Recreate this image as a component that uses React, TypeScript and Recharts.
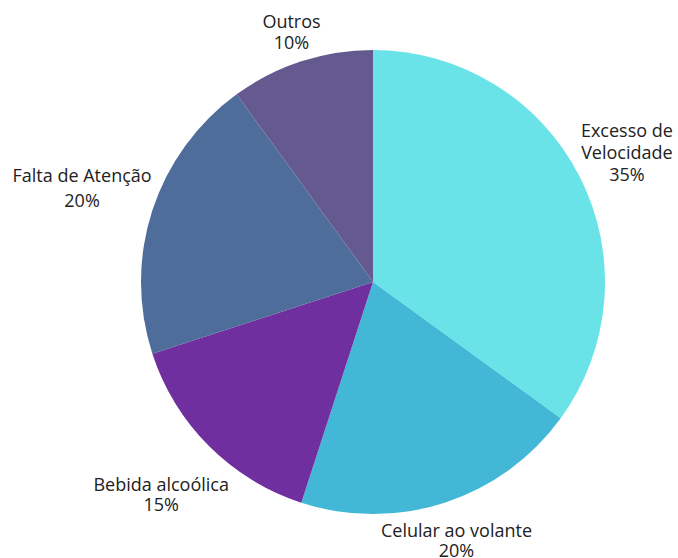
import React from "react";
import { PieChart, Pie, Cell } from "recharts";

const categories = ["Excesso de Velocidade", "Celular ao volante", "Bebida alcoólica", "Falta de Atenção", "Outros"];
const labelLines = [["Excesso de", "Velocidade", "35%"], ["Celular ao volante", "20%"], ["Bebida alcoólica", "15%"], ["Falta de Atenção", "20%"], ["Outros", "10%"]];
const values = [35, 20, 15, 20, 10];
const colors = ["#6AE3E8", "#43B7D6", "#6F2F9F", "#4E6D9A", "#645A8F"];

const data = categories.map((name, i) => ({ name, value: values[i] }));

// fine nudges of label blocks (px)
const nudges = [[16, -8.5], [1, 4], [-23, 23], [-37, -11.5], [1, 3.5]];
const lineHeights = [22, 20, 20, 25, 21];

const RADIAN = Math.PI / 180;

const renderLabel = (props: any) => {
  const { cx, cy, midAngle, outerRadius, index } = props;
  const r = outerRadius + 35;
  const x = cx + r * Math.cos(-midAngle * RADIAN) + nudges[index][0];
  const y = cy + r * Math.sin(-midAngle * RADIAN) + nudges[index][1];
  const lines = labelLines[index];
  const lh = lineHeights[index];
  const startY = y - ((lines.length - 1) * lh) / 2;
  return (
    <text
      x={x}
      y={startY}
      textAnchor="middle"
      dominantBaseline="central"
      fill="#222"
      style={{ fontFamily: "'Open Sans', sans-serif", fontSize: 18 }}
    >
      {lines.map((l, i) => (
        <tspan key={i} x={x} y={startY + i * lh} dominantBaseline="central">
          {l}
        </tspan>
      ))}
    </text>
  );
};

export default function App() {
  return (
    <div style={{ position: "absolute", left: 0, top: 0, width: 678, height: 558, background: "#fff" }}>
      <PieChart width={678} height={558} margin={{ top: 0, right: 0, bottom: 0, left: 0 }}>
        <Pie
          data={data}
          dataKey="value"
          nameKey="name"
          cx={373}
          cy={282}
          outerRadius={232}
          startAngle={90}
          endAngle={-270}
          stroke="none"
          label={renderLabel}
          labelLine={false}
          isAnimationActive={false}
        >
          {data.map((d, i) => (
            <Cell key={d.name} fill={colors[i]} />
          ))}
        </Pie>
      </PieChart>
    </div>
  );
}
